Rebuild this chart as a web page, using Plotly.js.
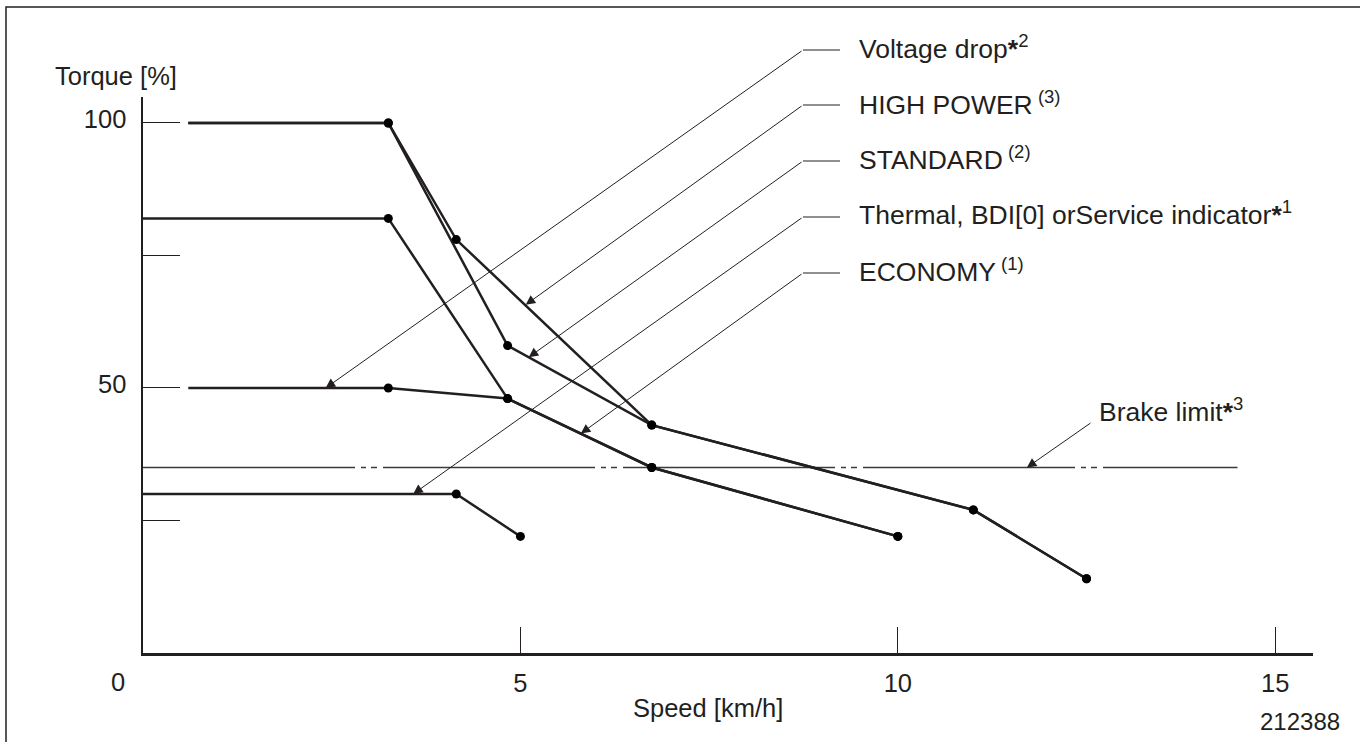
<!DOCTYPE html>
<html>
<head>
<meta charset="utf-8">
<script src="https://cdn.plot.ly/plotly-3.0.1.min.js"></script>
<style>html,body{margin:0;padding:0;background:#fff;}#chart{width:1360px;height:742px;}</style>
</head>
<body>
<div id="chart"></div>
<script>
// ---- data ----
const speedHighPower = [0.6, 3.25, 4.15, 6.74, 11, 12.5];
const torqueHighPower = [100, 100, 78, 43, 27, 14];
const speedStandard = [0.6, 3.25, 4.83, 6.74, 11, 12.5];
const torqueStandard = [100, 100, 58, 43, 27, 14];
const speedVoltage = [0.6, 3.25, 4.83, 6.74, 10];
const torqueVoltage = [50, 50, 48, 35, 22];
const speedEconomy = [0, 3.25, 4.83, 6.74, 10];
const torqueEconomy = [82, 82, 48, 35, 22];
const speedThermal = [0, 4.15, 5];
const torqueThermal = [30, 30, 22];
const speedBrake = [0, 14.5];
const torqueBrake = [35, 35];

const xTickVals = [5, 10, 15];
const xTickText = ['5', '10', '15'];
const yTickVals = [25, 50, 75, 100];
const yTickText = ['', '50', '', '100'];

const labelTexts = [
  'Voltage drop<b>*</b><sup>2</sup>',
  'HIGH POWER<sup> (3)</sup>',
  'STANDARD<sup> (2)</sup>',
  'Thermal, BDI[0] orService indicator<b>*</b><sup>1</sup>',
  'ECONOMY<sup> (1)</sup>'
];
const brakeLabel = 'Brake limit<b>*</b><sup>3</sup>';

// ---- layout geometry ----
const INK = '#231f20';
const FONT = 'Liberation Sans, Arial, Helvetica, sans-serif';
const FS = 25.5, FSL = 26.5;
const PL = 143, PT = 97, PW = 1170, PH = 556;
const XR = [0, 15.5], YR = [0, 104.9];
const px = x => (x - PL) / PW;           // pixel -> paper x
const py = y => (PT + PH - y) / PH;      // pixel -> paper y
const dx2px = v => PL + (v - XR[0]) / (XR[1] - XR[0]) * PW;
const dy2px = v => PT + PH - (v - YR[0]) / (YR[1] - YR[0]) * PH;

const series = [
  [speedHighPower, torqueHighPower, 'HIGH POWER (3)'],
  [speedStandard, torqueStandard, 'STANDARD (2)'],
  [speedVoltage, torqueVoltage, 'Voltage drop *2'],
  [speedEconomy, torqueEconomy, 'ECONOMY (1)'],
  [speedThermal, torqueThermal, 'Thermal, BDI[0] or Service indicator *1']
];

const traces = [
  {x: speedBrake, y: torqueBrake, name: 'Brake limit', type: 'scatter', mode: 'lines',
   line: {color: '#3a3a3a', width: 1.3, dash: '212px,6px,5px,5px,6px,6px'}}
];
series.forEach(s => traces.push({
  x: s[0], y: s[1], name: s[2], type: 'scatter', mode: 'lines',
  line: {color: INK, width: 2.5}
}));
// vertex dots (every vertex except the starting point of each curve)
series.forEach(s => traces.push({
  x: s[0].slice(1), y: s[1].slice(1), name: s[2], type: 'scatter', mode: 'markers',
  marker: {color: '#000', size: 9, opacity: 1, line: {width: 0}}, cliponaxis: false
}));

// arrow tips (data coords) and leader rows (pixel y)
const tips = [[2.42, 50], [5.07, 65.7], [5.11, 55.8], [3.58, 30], [5.80, 41.4]];
const leaderY = [50, 105, 161, 217, 273];
const labelY = [47, 103, 158, 213, 270];
const tailX = 803, leaderEnd = 840, labelX = 857;

const annotations = [];
const shapes = [];
tips.forEach((t, i) => {
  annotations.push({
    x: t[0], y: t[1], xref: 'x', yref: 'y', text: '', showarrow: true,
    ax: tailX - dx2px(t[0]), ay: leaderY[i] - dy2px(t[1]),
    arrowhead: 2, arrowsize: 1.9, arrowwidth: 1, arrowcolor: INK, standoff: 0, startstandoff: 0
  });
  shapes.push({type: 'line', xref: 'paper', yref: 'paper',
    x0: px(tailX), x1: px(leaderEnd), y0: py(leaderY[i]), y1: py(leaderY[i]),
    line: {color: INK, width: 1}});
  annotations.push({
    x: px(labelX), y: py(labelY[i]), xref: 'paper', yref: 'paper', xanchor: 'left', yanchor: 'middle',
    text: labelTexts[i], showarrow: false, font: {family: FONT, size: FSL, color: INK}
  });
});
// brake limit
const brakeTip = [11.71, 35];
annotations.push({
  x: brakeTip[0], y: brakeTip[1], xref: 'x', yref: 'y', text: '', showarrow: true,
  ax: 1092 - dx2px(brakeTip[0]), ay: 422 - dy2px(brakeTip[1]),
  arrowhead: 2, arrowsize: 1.9, arrowwidth: 1, arrowcolor: INK, standoff: 0, startstandoff: 0
});
annotations.push({x: px(1097), y: py(410), xref: 'paper', yref: 'paper', xanchor: 'left', yanchor: 'middle',
  text: brakeLabel, showarrow: false, font: {family: FONT, size: FSL, color: INK}});

// axis texts
annotations.push({x: px(53), y: py(76), xref: 'paper', yref: 'paper', xanchor: 'left', yanchor: 'middle',
  text: 'Torque [%]', showarrow: false, font: {family: FONT, size: FS, color: INK}});
annotations.push({x: px(708), y: py(708), xref: 'paper', yref: 'paper', xanchor: 'center', yanchor: 'middle',
  text: 'Speed [km/h]', showarrow: false, font: {family: FONT, size: FS, color: INK}});
annotations.push({x: px(118), y: py(682), xref: 'paper', yref: 'paper', xanchor: 'center', yanchor: 'middle',
  text: '0', showarrow: false, font: {family: FONT, size: FS, color: INK}});
annotations.push({x: px(1300), y: py(721), xref: 'paper', yref: 'paper', xanchor: 'center', yanchor: 'middle',
  text: '212388', showarrow: false, font: {family: FONT, size: 24, color: INK}});

// frame of the figure (left and top edges)
shapes.push({type: 'rect', xref: 'paper', yref: 'paper', x0: px(6), x1: px(1420), y0: py(7), y1: py(800),
  line: {color: INK, width: 1.5}});

const layout = {
  width: 1360, height: 742,
  margin: {l: PL, r: 1360 - PL - PW, t: PT, b: 742 - PT - PH, pad: 0},
  paper_bgcolor: '#fff', plot_bgcolor: '#fff', showlegend: false,
  font: {family: FONT, size: FS, color: INK},
  xaxis: {range: XR, showline: true, linewidth: 2.5, linecolor: INK, showgrid: false, zeroline: false,
    ticks: 'inside', ticklen: 26, tickwidth: 1, tickcolor: INK, tickvals: xTickVals, ticktext: xTickText,
    tickfont: {family: FONT, size: FS, color: INK}, ticklabelstandoff: 6, fixedrange: true},
  yaxis: {range: YR, showline: true, linewidth: 2.5, linecolor: INK, showgrid: false, zeroline: false,
    ticks: 'inside', ticklen: 37, tickwidth: 1, tickcolor: INK, tickvals: yTickVals, ticktext: yTickText,
    tickfont: {family: FONT, size: FS, color: INK}, ticklabelstandoff: 9, ticklabelshift: -4, fixedrange: true},
  annotations: annotations,
  shapes: shapes
};

Plotly.newPlot('chart', traces, layout, {staticPlot: true, displayModeBar: false});
</script>
</body>
</html>
